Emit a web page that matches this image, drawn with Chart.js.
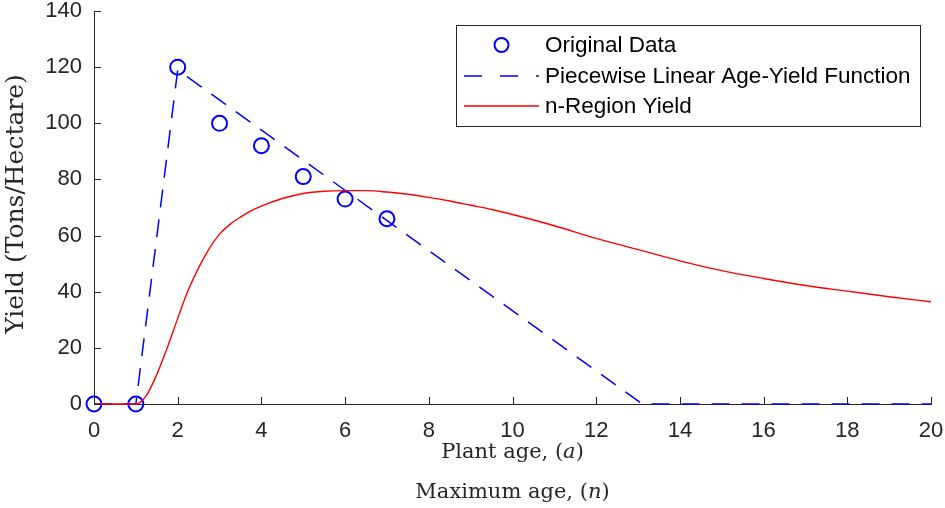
<!DOCTYPE html>
<html>
<head>
<meta charset="utf-8">
<script src="https://cdn.jsdelivr.net/npm/chart.js@4.4.1/dist/chart.umd.min.js"></script>
<style>
  html, body { margin: 0; padding: 0; background: #fff; }
  #wrap { width: 945px; height: 508px; }
</style>
</head>
<body>
<div id="wrap"><canvas id="myChart" width="945" height="508"></canvas></div>
<script>
"use strict";
// observed data
const dataAge = [0, 1, 2, 3, 4, 5, 6, 7];
const dataYield = [0, 0, 120, 100, 92, 81, 73, 66];
// piecewise linear fit
const pwAge = [0, 1, 2, 13.1, 20];
const pwYield = [0, 0, 119, 0, 0];
// n-region yield curve
const nrAge = [0, 0.5, 1, 1.25, 1.5, 1.75, 2, 2.25, 2.5, 2.75, 3, 3.25, 3.5, 3.75, 4, 4.5, 5, 5.5, 6, 6.5, 7, 7.5, 8, 8.5, 9, 9.5, 10, 11, 12, 13, 14, 15, 16, 17, 18, 19, 20];
const nrYield = [0, 0, 0, 3, 10.5, 20, 30.5, 40.5, 48.5, 55.3, 60.5, 64, 66.6, 68.8, 70.5, 73.2, 75, 75.8, 76, 76, 75.5, 74.7, 73.6, 72.3, 70.8, 69.3, 67.5, 63.5, 59, 55, 51, 47.5, 44.7, 42.2, 40.2, 38.2, 36.4];
const xTicks = [0, 2, 4, 6, 8, 10, 12, 14, 16, 18, 20];
const yTicks = [0, 20, 40, 60, 80, 100, 120, 140];
const labels = ["Original Data", "Piecewise Linear Age-Yield Function", "n-Region Yield"];

const colors = {
    axis: "#262626",
    blue: "#0000ff",
    red: "#ff0000"
};
const toXY = (xs, ys) => xs.map((x, i) => ({ x: x, y: ys[i] }));

// inward tick marks, axis titles and the boxed legend
const decorations = {
    id: "decorations",
    afterDraw(chart) {
        const ctx = chart.ctx;
        const xs = chart.scales.x, ys = chart.scales.y;
        const area = chart.chartArea;
        ctx.save();
        ctx.strokeStyle = colors.axis;
        ctx.lineWidth = 1;
        ctx.beginPath();
        xTicks.forEach(v => {
            const px = Math.round(xs.getPixelForValue(v)) + 0.5;
            ctx.moveTo(px, area.bottom);
            ctx.lineTo(px, area.bottom - 7);
        });
        yTicks.forEach(v => {
            const py = Math.round(ys.getPixelForValue(v)) + 0.5;
            ctx.moveTo(area.left, py);
            ctx.lineTo(area.left + 7, py);
        });
        ctx.stroke();

        // x titles with italic symbols
        const drawMixed = (parts, cx, baseline) => {
            let w = 0;
            parts.forEach(p => { ctx.font = p[1]; w += ctx.measureText(p[0]).width; });
            let x = cx - w / 2;
            parts.forEach(p => {
                ctx.font = p[1];
                ctx.fillText(p[0], x, baseline);
                x += ctx.measureText(p[0]).width;
            });
        };
        const serif = "21px 'DejaVu Serif'";
        const serifIt = "italic 21px 'DejaVu Serif'";
        ctx.fillStyle = colors.axis;
        ctx.textBaseline = "alphabetic";
        ctx.textAlign = "left";
        const cx = (area.left + area.right) / 2;
        drawMixed([["Plant age, (", serif], ["a", serifIt], [")", serif]], cx, 458);
        drawMixed([["Maximum age, (", serif], ["n", serifIt], [")", serif]], cx, 498);

        // y title
        ctx.save();
        ctx.translate(23, 204);
        ctx.rotate(-Math.PI / 2);
        ctx.textAlign = "center";
        ctx.font = "25px 'DejaVu Serif'";
        ctx.fillText("Yield (Tons/Hectare)", 0, 0);
        ctx.restore();

        // legend box
        const lx = 456.5, ly = 25.5, lw = 464, lh = 101;
        ctx.fillStyle = "#fff";
        ctx.fillRect(lx, ly, lw, lh);
        ctx.strokeStyle = colors.axis;
        ctx.lineWidth = 1;
        ctx.strokeRect(lx, ly, lw, lh);
        const rows = [45, 76, 106];
        ctx.font = "22.5px 'Liberation Sans', Arial";
        ctx.fillStyle = "#000";
        ctx.textBaseline = "middle";
        ctx.textAlign = "left";
        rows.forEach((ry, i) => ctx.fillText(labels[i], 545, ry + 1));
        ctx.lineWidth = 2;
        ctx.strokeStyle = colors.blue;
        ctx.beginPath();
        ctx.arc(501.5, rows[0], 7, 0, Math.PI * 2);
        ctx.stroke();
        ctx.lineWidth = 1.5;
        ctx.setLineDash([18, 18]);
        ctx.beginPath();
        ctx.moveTo(464, rows[1]);
        ctx.lineTo(539, rows[1]);
        ctx.stroke();
        ctx.setLineDash([]);
        ctx.strokeStyle = colors.red;
        ctx.beginPath();
        ctx.moveTo(464, rows[2]);
        ctx.lineTo(539, rows[2]);
        ctx.stroke();
        ctx.restore();
    }
};

const tickFont = { family: "'Liberation Sans', Arial", size: 22 };

const chart = new Chart(document.getElementById("myChart"), {
    type: "scatter",
    data: {
        datasets: [
            {
                label: labels[0],
                data: toXY(dataAge, dataYield),
                showLine: false,
                pointStyle: "circle",
                pointRadius: 7.5,
                pointBorderWidth: 2,
                pointBorderColor: colors.blue,
                pointBackgroundColor: "rgba(0,0,0,0)",
                clip: false,
                order: 3
            },
            {
                label: labels[1],
                data: toXY(pwAge, pwYield),
                showLine: true,
                borderColor: colors.blue,
                borderWidth: 1.5,
                borderDash: [18, 12],
                pointRadius: 0,
                clip: false,
                order: 2
            },
            {
                label: labels[2],
                data: toXY(nrAge, nrYield),
                showLine: true,
                borderColor: colors.red,
                borderWidth: 1.4,
                cubicInterpolationMode: "monotone",
                pointRadius: 0,
                clip: false,
                order: 1
            }
        ]
    },
    options: {
        responsive: false,
        animation: false,
        layout: { padding: { left: 0, top: 11, right: 14, bottom: 0 } },
        plugins: {
            legend: { display: false },
            tooltip: { enabled: false }
        },
        scales: {
            x: {
                type: "linear",
                min: 0,
                max: 20,
                afterBuildTicks: s => { s.ticks = xTicks.map(v => ({ value: v })); },
                afterFit: s => { s.height = 104; s.paddingLeft = 0; s.paddingRight = 0; },
                ticks: { color: colors.axis, font: tickFont, padding: 14, maxRotation: 0 },
                grid: { display: true, drawOnChartArea: false, drawTicks: false },
                border: { display: true, color: colors.axis, width: 1 }
            },
            y: {
                type: "linear",
                min: 0,
                max: 140,
                afterBuildTicks: s => { s.ticks = yTicks.map(v => ({ value: v })); },
                afterFit: s => { s.width = 94; s.paddingTop = 0; s.paddingBottom = 0; },
                ticks: { color: colors.axis, font: tickFont, padding: 12 },
                grid: { display: true, drawOnChartArea: false, drawTicks: false },
                border: { display: true, color: colors.axis, width: 1 }
            }
        }
    },
    plugins: [decorations]
});
</script>
</body>
</html>
